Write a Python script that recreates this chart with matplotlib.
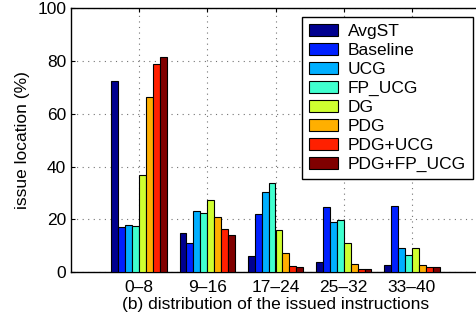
import numpy as np
import matplotlib.pyplot as plt

plt.rcParams['font.family'] = ['Liberation Sans', 'DejaVu Sans']

# 데이터
groups = ['0\u20138', '9\u201316', '17\u201324', '25\u201332', '33\u201340']
series = ['AvgST', 'Baseline', 'UCG', 'FP_UCG', 'DG', 'PDG', 'PDG+UCG', 'PDG+FP_UCG']
avgst = [72.6, 14.7, 6.1, 3.8, 2.7]
baseline = [17.0, 10.9, 22.0, 24.8, 25.0]
ucg = [18.0, 23.3, 30.5, 19.0, 9.2]
fp_ucg = [17.5, 22.4, 33.9, 19.6, 6.5]
dg = [36.6, 27.3, 15.9, 10.9, 9.1]
pdg = [66.3, 21.0, 7.1, 2.9, 2.5]
pdg_ucg = [78.7, 16.2, 2.3, 1.1, 1.8]
pdg_fp_ucg = [81.6, 13.9, 1.8, 1.1, 1.8]
values = [avgst, baseline, ucg, fp_ucg, dg, pdg, pdg_ucg, pdg_fp_ucg]

colors = ['#00008F', '#0020FF', '#00AFFF', '#40FFCF',
          '#CFFF30', '#FFAF00', '#FF2000', '#800000']

fs = 12.5
fig = plt.figure(figsize=(4.77, 3.2), dpi=100)
ax = fig.add_axes([71 / 477, 48 / 320, 409 / 477, 263.7 / 320])

x = np.arange(1, len(groups) + 1)
w = 0.102
for i, (name, vals) in enumerate(zip(series, values)):
    ax.bar(x + (i - 3.5) * w, vals, w, color=colors[i], edgecolor='black',
           linewidth=0.8, label=name, zorder=3)

ax.set_xlim(0, 6)
ax.set_ylim(0, 100)
ax.set_xticks(x)
ax.set_xticklabels(groups, fontsize=fs)
ax.set_yticks(np.arange(0, 101, 20))
ax.tick_params(axis='y', labelsize=fs)
ax.tick_params(direction='in', top=True, right=True, length=3)
ax.tick_params(axis='x', pad=6)
ax.grid(True, color='0.45', linestyle=(0, (1, 4)), linewidth=0.8, zorder=0)
for s in ax.spines.values():
    s.set_linewidth(1.0)

ax.set_xlabel('(b) distribution of the issued instructions', fontsize=fs, labelpad=1)
ax.set_ylabel('issue location (%)', fontsize=fs, labelpad=5)

leg = ax.legend(loc='upper right', bbox_to_anchor=(473 / 477, (320 - 17) / 320),
                bbox_transform=fig.transFigure, borderaxespad=0, fontsize=fs,
                fancybox=False, edgecolor='black', framealpha=1,
                handlelength=1.67, handleheight=0.7, labelspacing=0.22,
                handletextpad=0.57, borderpad=0.4)
leg.get_frame().set_linewidth(1.0)

fig.savefig('out.png', dpi=100)
